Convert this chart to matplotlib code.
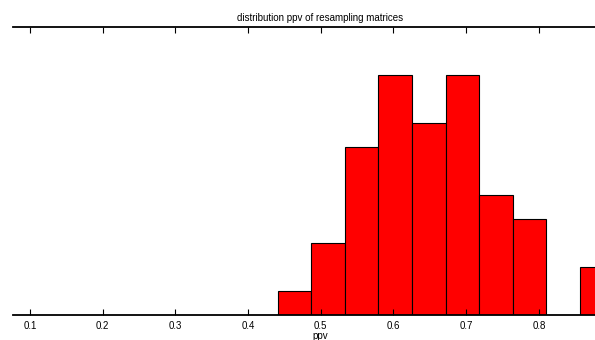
import numpy as np
import matplotlib.pyplot as plt

plt.rcParams['font.family'] = ['Liberation Sans', 'DejaVu Sans']

# histogram of ppv values (bin edges and counts)
bin_edges = np.array([0.441, 0.487, 0.533, 0.579, 0.625, 0.672, 0.718, 0.764, 0.810, 0.856, 0.902])
counts = np.array([1, 3, 7, 10, 8, 10, 5, 4, 0, 2])
tick_values = [0.1, 0.2, 0.3, 0.4, 0.5, 0.6, 0.7, 0.8]

fig = plt.figure(figsize=(5.95, 3.4), dpi=100)
# the axes runs a little past the right edge of the picture (cropped original)
ax = fig.add_axes([0.0218, 0.0735, 1.0337, 0.8471])

ax.bar(bin_edges[:-1], counts, width=np.diff(bin_edges), align='edge',
       color='#ff0000', edgecolor='black', linewidth=0.8)

ax.set_xlim(0.0766, 0.9226)
ax.set_ylim(0, 12)
ax.set_xticks(tick_values)
ax.set_xticklabels([str(t) for t in tick_values])
ax.set_yticks([])

for side in ['left', 'right']:
    ax.spines[side].set_visible(False)
for side in ['top', 'bottom']:
    ax.spines[side].set_linewidth(1.3)

ax.tick_params(axis='x', direction='in', top=True, length=4, width=0.8,
               labelsize=7, pad=4)
ax.set_xlabel('ppv', fontsize=7, labelpad=0)
ax.set_title('distribution ppv of resampling matrices', fontsize=7, pad=4)

fig.savefig('out.png', dpi=100)
